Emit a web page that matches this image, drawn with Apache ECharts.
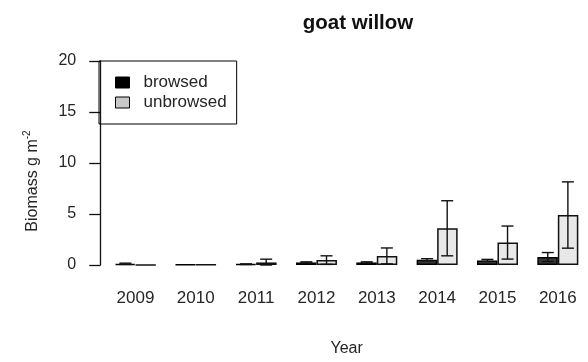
<!DOCTYPE html>
<html>
<head>
<meta charset="utf-8">
<script src="https://cdn.jsdelivr.net/npm/echarts@6/dist/echarts.min.js"></script>
<style>
  html, body { margin: 0; padding: 0; background: #fff; }
  #chart { width: 588px; height: 362px; }
</style>
</head>
<body>
<div id="chart"></div>
<script>
// Goat willow biomass (g m^-2) by year, browsed vs unbrowsed plots, with error bars
const years = ['2009', '2010', '2011', '2012', '2013', '2014', '2015', '2016'];
const browsedMean = [0.12, 0.04, 0.08, 0.25, 0.25, 0.52, 0.45, 0.78];
const browsedErr  = [0.06, 0.00, 0.03, 0.06, 0.06, 0.10, 0.10, 0.44];
const unbrowsedMean = [0.02, 0.04, 0.25, 0.48, 0.89, 3.6, 2.2, 4.9];
const unbrowsedErr  = [0.00, 0.00, 0.32, 0.42, 0.78, 2.7, 1.62, 3.25];
const yTicks = [0, 5, 10, 15, 20];

const FONT = '"Liberation Sans", Arial, sans-serif';
const TEXT = '#262626';

// Error bar drawn as a vertical whisker with caps, shifted onto its bar
function errorSeries(means, errs, side) {
  return {
    type: 'custom',
    silent: true,
    z: 5,
    data: means.map((m, i) => [i, m - errs[i], m + errs[i]]),
    renderItem: function (params, api) {
      const i = api.value(0);
      const lo = api.value(1), hi = api.value(2);
      if (hi - lo <= 0) return null;
      const band = api.size([1, 0])[0];
      const bw = band / 3;
      const cx = api.coord([i, 0])[0] + side * bw / 2;
      const top = api.coord([i, hi])[1];
      const bot = api.coord([i, Math.max(lo, 0)])[1];
      const cap = 6;
      const style = { stroke: '#111', lineWidth: 1.4 };
      return {
        type: 'group',
        children: [
          { type: 'line', shape: { x1: cx, y1: top, x2: cx, y2: bot }, style: style },
          { type: 'line', shape: { x1: cx - cap, y1: top, x2: cx + cap, y2: top }, style: style },
          { type: 'line', shape: { x1: cx - cap, y1: bot, x2: cx + cap, y2: bot }, style: style }
        ]
      };
    }
  };
}

const chart = echarts.init(document.getElementById('chart'), null, { renderer: 'canvas' });
chart.setOption({
  animation: false,
  backgroundColor: '#fff',
  textStyle: { fontFamily: FONT },
  title: {
    text: 'goat willow',
    left: 353,
    textAlign: 'center',
    top: 8,
    textStyle: { fontFamily: FONT, fontSize: 20.5, fontWeight: 'bold', color: '#111' }
  },
  legend: {
    orient: 'vertical',
    left: 99,
    top: 61,
    borderColor: '#000',
    borderWidth: 1,
    borderRadius: 0,
    padding: [13, 10, 13, 16],
    itemGap: 3,
    itemWidth: 14,
    itemHeight: 11,
    icon: 'rect',
    textStyle: { fontFamily: FONT, fontSize: 17, color: TEXT, padding: [0, 0, 0, 9] },
    data: [
      { name: 'browsed', itemStyle: { color: '#000', borderColor: '#000', borderWidth: 1 } },
      { name: 'unbrowsed', itemStyle: { color: '#c8c8c8', borderColor: '#000', borderWidth: 1 } }
    ]
  },
  grid: { left: 105.25, top: 61, width: 492, bottom: 91.5, containLabel: false },
  xAxis: {
    type: 'category',
    data: years,
    boundaryGap: true,
    axisLine: { show: false },
    axisTick: { show: false },
    axisLabel: { fontFamily: FONT, fontSize: 17, color: TEXT, margin: 25 },
    name: 'Year',
    nameLocation: 'middle',
    nameGap: 76,
    nameTextStyle: { fontFamily: FONT, fontSize: 16, color: TEXT }
  },
  yAxis: {
    type: 'value',
    min: yTicks[0],
    max: yTicks[yTicks.length - 1],
    interval: 5,
    offset: 5,
    splitLine: { show: false },
    axisLine: { show: true, lineStyle: { color: '#111', width: 1.3 } },
    axisTick: { show: true, length: 11, lineStyle: { color: '#111', width: 1.3 } },
    axisLabel: { fontFamily: FONT, fontSize: 16, color: TEXT, margin: 24 },
    name: '{b|Biomass g m}{s|-2}',
    nameLocation: 'middle',
    nameRotate: 90,
    nameGap: 58,
    nameTextStyle: {
      padding: [0, 36, 0, 0],
      rich: {
        b: { fontFamily: FONT, fontSize: 16, color: TEXT },
        s: { fontFamily: FONT, fontSize: 10, color: TEXT, verticalAlign: 'top', padding: [0, 0, 10, 0] }
      }
    }
  },
  series: [
    {
      name: 'browsed',
      type: 'bar',
      data: browsedMean,
      barWidth: 20.5,
      barGap: '0%',
      itemStyle: { color: '#383838', borderColor: '#000', borderWidth: 1.5 }
    },
    {
      name: 'unbrowsed',
      type: 'bar',
      data: unbrowsedMean,
      barWidth: 20.5,
      barGap: '0%',
      itemStyle: { color: '#e8e8e8', borderColor: '#111', borderWidth: 1.5 }
    },
    errorSeries(browsedMean, browsedErr, -1),
    errorSeries(unbrowsedMean, unbrowsedErr, 1)
  ]
});
</script>
</body>
</html>
